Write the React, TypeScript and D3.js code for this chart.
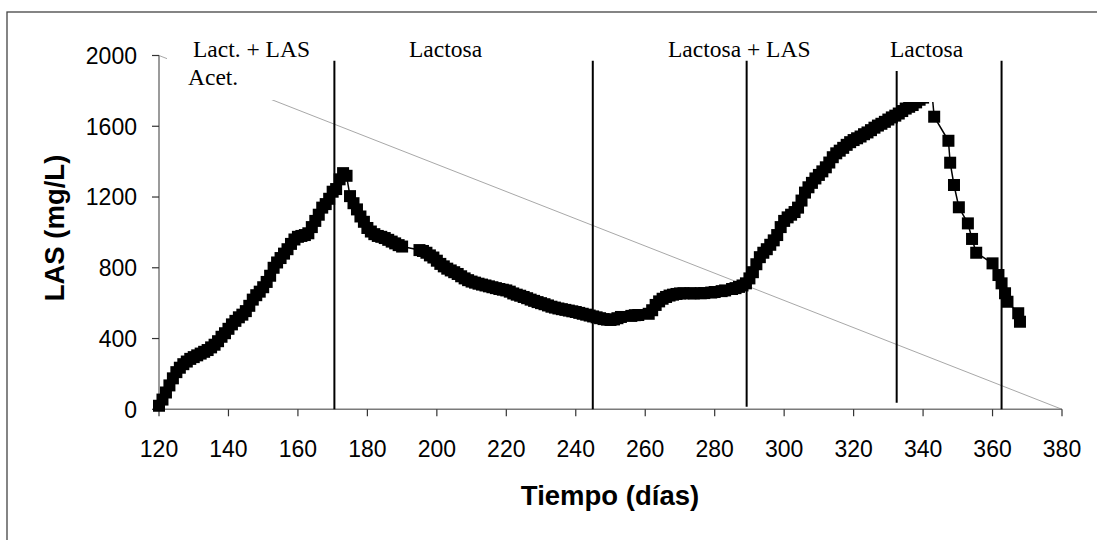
import React from "react";
import * as d3 from "d3";

// Sampling days and measured LAS concentration (mg/L)
const DAYS: number[] = [
  120, 121, 122, 123, 124, 125, 126, 127, 128, 129, 130, 131, 132, 133, 134, 135, 136, 137, 138, 139,
  140, 141, 142, 143, 144, 145, 146, 147, 148, 149, 150, 151, 152, 153, 154, 155, 156, 157, 158, 159,
  160, 161, 162, 163, 164, 165, 166, 167, 168, 169, 170, 171, 172, 173, 174, 175, 176, 177, 178, 179,
  180, 181, 182, 183, 184, 185, 186, 187, 188, 189, 190, 195, 196, 197, 198, 199,
  200, 201, 202, 203, 204, 205, 206, 207, 208, 209, 210, 211, 212, 213, 214, 215, 216, 217, 218, 219,
  220, 221, 222, 223, 224, 225, 226, 227, 228, 229, 230, 231, 232, 233, 234, 235, 236, 237, 238, 239,
  240, 241, 242, 243, 244, 245, 246, 247, 248, 249, 250, 251, 252, 253, 256, 257, 258,
  261, 262, 263, 264, 265, 266, 267, 268, 269, 270, 271, 273, 274, 276, 277, 279,
  280, 282, 283, 285, 286, 287, 288, 289, 290, 291, 292, 293, 294, 295, 296, 297, 298, 299,
  300, 301, 302, 303, 304, 305, 306, 307, 308, 309, 310, 311, 312, 313, 314, 315, 316, 317, 318, 319,
  320, 321, 322, 323, 324, 325, 326, 327, 328, 329, 330, 331, 332, 333, 334, 335, 336, 337, 338, 339,
  340, 341, 342.6, 343.2, 347.3, 347.8, 348.9, 350.3, 352.9, 354.1, 355.3,
  360, 361.7, 362.6, 363.6, 364.3, 367.4, 367.9,
];

const LAS: number[] = [
  20, 55, 95, 135, 175, 210, 235, 255, 270, 285, 295, 305, 315, 325, 335, 350, 365, 385, 410, 430,
  455, 480, 500, 520, 535, 555, 585, 620, 645, 665, 690, 720, 755, 800, 830, 855, 880, 905, 935, 960,
  975, 980, 985, 995, 1030, 1065, 1100, 1140, 1160, 1190, 1230, 1245, 1300, 1335, 1320, 1205, 1165, 1130, 1090, 1060,
  1025, 1005, 990, 980, 975, 968, 958, 948, 938, 928, 920, 900, 895, 885, 870, 858,
  840, 822, 808, 795, 785, 775, 765, 752, 740, 730, 722, 716, 710, 705, 700, 695, 690, 685, 680, 676,
  672, 665, 655, 648, 642, 635, 628, 620, 613, 606, 600, 594, 587, 580, 575, 570, 566, 562, 558, 554,
  550, 545, 540, 535, 530, 525, 520, 515, 510, 507, 505, 508, 515, 522, 528, 532, 533,
  540, 560, 590, 610, 625, 635, 643, 648, 652, 655, 656, 656, 655, 656, 657, 660,
  663, 668, 672, 680, 685, 692, 700, 712, 740, 775, 820, 860, 885, 905, 930, 955, 985, 1030,
  1065, 1085, 1100, 1115, 1140, 1180, 1225, 1255, 1280, 1305, 1325, 1345, 1368, 1395, 1425, 1447, 1462, 1478, 1495, 1510,
  1522, 1532, 1542, 1555, 1565, 1578, 1592, 1604, 1614, 1625, 1638, 1650, 1660, 1672, 1686, 1700, 1710, 1720, 1735, 1750,
  1762, 1772, 1780, 1654, 1518, 1394, 1268, 1142, 1051, 963, 885,
  825, 759, 712, 656, 608, 543, 495,
];

// Phase boundaries: day, bottom and top of each divider (mg/L)
const DIVIDER_DAYS: number[] = [170.5, 244.9, 289.2, 332.4, 362.6];
const DIVIDER_BOTTOM: number[] = [0, 0, 15, 37, 0];
const DIVIDER_TOP: number[] = [1970, 1970, 1970, 1912, 1970];

// Reference diagonal (day, mg/L) end points
const REF_DAYS: number[] = [120, 380];
const REF_LAS: number[] = [2000, 0];

const X_TICKS: number[] = [120, 140, 160, 180, 200, 220, 240, 260, 280, 300, 320, 340, 360, 380];
const Y_TICKS: number[] = [0, 400, 800, 1200, 1600, 2000];

const PHASE_LABELS: string[] = ["Lact. + LAS", "Acet.", "Lactosa", "Lactosa + LAS", "Lactosa"];

const W = 1097;
const H = 540;

export default function App() {
  const x = d3.scaleLinear().domain([120, 380]).range([159, 1062]);
  const y = d3.scaleLinear().domain([0, 2000]).range([409.3, 55.5]);

  const points = DAYS.map((d, i) => [d, LAS[i]] as [number, number]);
  const line = d3
    .line<[number, number]>()
    .x((p) => x(p[0]))
    .y((p) => y(p[1]));

  const sans = "'Liberation Sans', Arial, sans-serif";
  const serif = "'Liberation Serif', 'Times New Roman', serif";
  const axisColor = "#7a7a7a";
  const m = 12;

  return (
    <svg
      width={W}
      height={H}
      style={{ position: "absolute", left: 0, top: 0, background: "#fff" }}
    >
      <rect x={0} y={0} width={W} height={H} fill="#fff" />
      {/* outer frame */}
      <rect x={7} y={12} width={W + 10} height={H + 10} fill="none" stroke="#444" strokeWidth={1.3} />

      {/* reference diagonal */}
      <line
        x1={x(REF_DAYS[0])}
        y1={y(REF_LAS[0])}
        x2={x(REF_DAYS[1])}
        y2={y(REF_LAS[1])}
        stroke="#a8a8a8"
        strokeWidth={1}
      />

      {/* axes */}
      <line x1={x(120)} y1={y(0)} x2={x(380)} y2={y(0)} stroke={axisColor} strokeWidth={1.5} />
      <line x1={x(120)} y1={y(0)} x2={x(120)} y2={y(2000)} stroke={axisColor} strokeWidth={1.5} />
      {X_TICKS.map((t) => (
        <g key={"xt" + t}>
          <line x1={x(t)} y1={y(0)} x2={x(t)} y2={y(0) + 7} stroke="#333" strokeWidth={1.2} />
          <text x={x(t)} y={457} textAnchor="middle" fontFamily={sans} fontSize={23} fill="#000">
            {t}
          </text>
        </g>
      ))}
      {Y_TICKS.map((t) => (
        <g key={"yt" + t}>
          <line x1={x(120) - 7} y1={y(t)} x2={x(120)} y2={y(t)} stroke="#333" strokeWidth={1.2} />
          <text
            x={137}
            y={y(t)}
            dy="0.36em"
            textAnchor="end"
            fontFamily={sans}
            fontSize={23}
            fill="#000"
          >
            {t}
          </text>
        </g>
      ))}

      {/* phase dividers */}
      {DIVIDER_DAYS.map((d, i) => (
        <line
          key={"dv" + i}
          x1={x(d)}
          x2={x(d)}
          y1={y(DIVIDER_BOTTOM[i])}
          y2={y(DIVIDER_TOP[i])}
          stroke="#000"
          strokeWidth={2}
        />
      ))}

      {/* LAS series */}
      <path d={line(points) ?? ""} fill="none" stroke="#000" strokeWidth={1.5} />
      {points.map((p, i) => (
        <rect
          key={"pt" + i}
          x={x(p[0]) - m / 2}
          y={y(p[1]) - m / 2}
          width={m}
          height={m}
          fill="#000"
        />
      ))}

      {/* phase labels in white text boxes */}
      <rect x={167} y={30} width={108} height={70} fill="#fff" />
      <text x={193} y={57} fontFamily={serif} fontSize={23.5} fill="#000">
        {PHASE_LABELS[0]}
      </text>
      <text x={188} y={85} fontFamily={serif} fontSize={23.5} fill="#000">
        {PHASE_LABELS[1]}
      </text>
      <text x={409} y={57} fontFamily={serif} fontSize={23.5} fill="#000">
        {PHASE_LABELS[2]}
      </text>
      <text x={668} y={57} fontFamily={serif} fontSize={23.5} fill="#000">
        {PHASE_LABELS[3]}
      </text>
      <rect x={899} y={30} width={95} height={72} fill="#fff" />
      <text x={890} y={57} fontFamily={serif} fontSize={23.5} fill="#000">
        {PHASE_LABELS[4]}
      </text>

      {/* axis titles */}
      <text
        x={610}
        y={505}
        textAnchor="middle"
        fontFamily={sans}
        fontWeight="bold"
        fontSize={27.5}
        fill="#000"
      >
        Tiempo (días)
      </text>
      <text
        transform={`translate(64, 228) rotate(-90)`}
        textAnchor="middle"
        fontFamily={sans}
        fontWeight="bold"
        fontSize={27.5}
        fill="#000"
      >
        LAS (mg/L)
      </text>
    </svg>
  );
}
